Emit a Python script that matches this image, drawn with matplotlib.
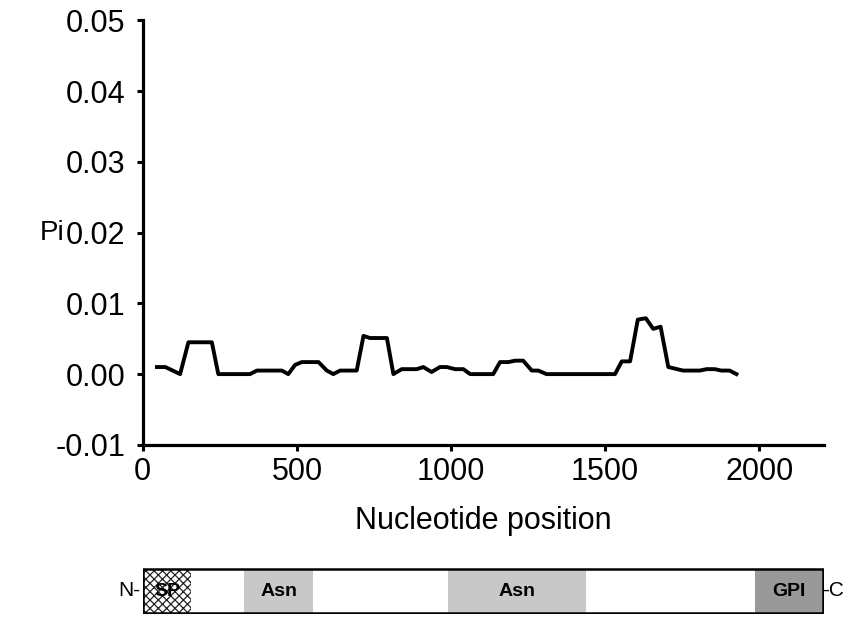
import numpy as np
import matplotlib.pyplot as plt
from matplotlib.patches import Rectangle

plt.rcParams['font.family'] = ['Liberation Sans', 'DejaVu Sans']
plt.rcParams['hatch.linewidth'] = 0.9

# sliding window nucleotide diversity
pos = [46, 73, 121, 148, 224, 245, 348, 370, 451, 472, 494, 516, 570, 597,
       618, 640, 694, 716, 737, 792, 813, 840, 889, 910, 937, 964, 986, 1013,
       1040, 1062, 1137, 1159, 1186, 1208, 1234, 1262, 1283, 1310, 1532, 1554,
       1581, 1606, 1632, 1656, 1680, 1705, 1753, 1807, 1829, 1856, 1877, 1904,
       1926]
pi_vals = [0.001, 0.001, 0.0, 0.0045, 0.0045, 0.0, 0.0, 0.0005, 0.0005, 0.0,
           0.0013, 0.0017, 0.0017, 0.0005, 0.0, 0.0005, 0.0005, 0.0054, 0.0051,
           0.0051, 0.0, 0.0007, 0.0007, 0.001, 0.0003, 0.001, 0.001, 0.0007,
           0.0007, 0.0, 0.0, 0.0017, 0.0017, 0.0019, 0.0019, 0.0005, 0.0005,
           0.0, 0.0, 0.0018, 0.0018, 0.0077, 0.0079, 0.0064, 0.0067, 0.001,
           0.0005, 0.0005, 0.0007, 0.0007, 0.0005, 0.0005, 0.0]

xticks = [0, 500, 1000, 1500, 2000]
yticks = [-0.01, 0.0, 0.01, 0.02, 0.03, 0.04, 0.05]

# protein domains (same scale as nucleotide axis)
dom_names = ['SP', 'Asn', 'Asn', 'GPI']
dom_start = [5, 329, 990, 1986]
dom_end = [156, 552, 1437, 2207]
dom_color = ['white', '#c8c8c8', '#c8c8c8', '#999999']
gene_len = 2207

fig = plt.figure(figsize=(8.5, 6.17), dpi=100)
ax = fig.add_axes([0.168, 0.279, 0.801, 0.688])
ax.plot(pos, pi_vals, color='black', lw=2.8)
ax.set_xlim(0, 2209)
ax.set_ylim(-0.01, 0.05)
ax.set_xticks(xticks)
ax.set_yticks(yticks)
ax.set_yticklabels(['%.2f' % v for v in yticks])
for s in ['top', 'right']:
    ax.spines[s].set_visible(False)
for s in ['left', 'bottom']:
    ax.spines[s].set_linewidth(2.3)
ax.tick_params(width=2.2, length=4.5, labelsize=22)
ax.tick_params(axis='y', pad=8)
ax.tick_params(axis='x', pad=4)
ax.set_xlabel('Nucleotide position', fontsize=22, labelpad=14)
ax.set_ylabel('Pi', fontsize=20, rotation=0, va='center', ha='center')
ax.yaxis.set_label_coords(-0.133, 0.5)

# domain diagram below
bx = fig.add_axes([0.168, 1 - 614 / 617, 0.801, 46 / 617])
bx.set_xlim(0, 2209)
bx.set_ylim(0, 1)
bx.axis('off')
for n, s, e, c in zip(dom_names, dom_start, dom_end, dom_color):
    hatch = 'xxxx' if n == 'SP' else None
    bx.add_patch(Rectangle((s, 0.03), e - s, 0.92, facecolor=c,
                           edgecolor='#222222' if hatch else 'none',
                           hatch=hatch, lw=0))
    bx.text((s + e) / 2, 0.48, n, ha='center', va='center',
            fontsize=14, fontweight='bold', zorder=5)
bx.add_patch(Rectangle((0, 0.02), gene_len, 0.95, fill=False,
                       edgecolor='black', lw=1.8))
bx.text(-8, 0.5, 'N-', ha='right', va='center', fontsize=15)
bx.text(gene_len - 2, 0.5, '-C', ha='left', va='center', fontsize=15)

fig.savefig('out.png', dpi=100)
